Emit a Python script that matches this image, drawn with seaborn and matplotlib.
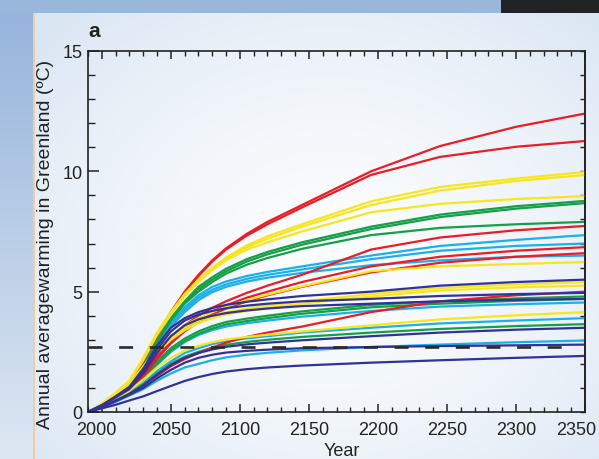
import matplotlib
matplotlib.use('Agg')
import matplotlib.pyplot as plt
import matplotlib.transforms as mtransforms
from matplotlib.ticker import MultipleLocator, FixedLocator
import numpy as np
import pandas as pd
import seaborn as sns

# sample years of every model run
years = [1990, 2000, 2010, 2020, 2030, 2040, 2050, 2060, 2070, 2080, 2090,
         2105, 2120, 2145, 2195, 2245, 2300, 2350]

# warming per run, grouped by colour
red_runs = {
    'red1': [0, 0.3, 0.75, 1.25, 2.15, 3.2, 4.15, 5.0, 5.7, 6.3, 6.8, 7.4, 7.9, 8.6, 10.0, 11.05, 11.85, 12.4],
    'red2': [0, 0.3, 0.72, 1.2, 2.1, 3.15, 4.1, 4.95, 5.65, 6.25, 6.75, 7.33, 7.8, 8.5, 9.85, 10.6, 11.02, 11.26],
    'red3': [0, 0.25, 0.6, 0.95, 1.6, 2.4, 3.1, 3.6, 4.0, 4.33, 4.6, 4.95, 5.25, 5.7, 6.75, 7.25, 7.55, 7.73],
    'red4': [0, 0.25, 0.58, 0.92, 1.5, 2.3, 2.95, 3.45, 3.85, 4.17, 4.43, 4.75, 5.0, 5.4, 6.05, 6.45, 6.7, 6.85],
    'red5': [0, 0.24, 0.56, 0.9, 1.45, 2.2, 2.85, 3.35, 3.75, 4.05, 4.3, 4.6, 4.85, 5.2, 5.8, 6.2, 6.45, 6.6],
    'red6': [0, 0.2, 0.45, 0.75, 1.1, 1.5, 1.9, 2.2, 2.45, 2.68, 2.88, 3.12, 3.3, 3.55, 4.15, 4.6, 4.85, 5.0],
}
yellow_runs = {
    'yel1': [0, 0.35, 0.8, 1.3, 2.25, 3.3, 4.15, 4.9, 5.5, 6.0, 6.42, 6.92, 7.3, 7.8, 8.75, 9.35, 9.7, 9.97],
    'yel2': [0, 0.33, 0.78, 1.28, 2.2, 3.25, 4.1, 4.85, 5.45, 5.95, 6.35, 6.85, 7.2, 7.7, 8.6, 9.2, 9.6, 9.85],
    'yel3': [0, 0.32, 0.76, 1.25, 2.15, 3.2, 4.05, 4.8, 5.4, 5.9, 6.3, 6.75, 7.05, 7.5, 8.3, 8.65, 8.85, 8.97],
    'yel4': [0, 0.3, 0.7, 1.15, 1.9, 2.6, 3.15, 3.6, 3.9, 4.15, 4.37, 4.65, 4.88, 5.22, 5.85, 6.05, 6.15, 6.23],
    'yel5': [0, 0.3, 0.7, 1.1, 1.8, 2.5, 3.05, 3.5, 3.8, 4.0, 4.15, 4.3, 4.42, 4.6, 4.9, 5.15, 5.3, 5.4],
    'yel6': [0, 0.3, 0.68, 1.08, 1.75, 2.45, 3.0, 3.4, 3.7, 3.9, 4.05, 4.2, 4.32, 4.5, 4.8, 5.05, 5.18, 5.25],
    'yel7': [0, 0.25, 0.55, 0.88, 1.35, 1.85, 2.25, 2.55, 2.75, 2.9, 3.01, 3.12, 3.21, 3.35, 3.6, 3.85, 4.02, 4.15],
}
green_runs = {
    'grn1': [0, 0.3, 0.7, 1.15, 2.0, 3.0, 3.9, 4.6, 5.2, 5.6, 5.95, 6.35, 6.65, 7.05, 7.7, 8.2, 8.55, 8.77],
    'grn2': [0, 0.3, 0.7, 1.12, 1.95, 2.95, 3.85, 4.55, 5.1, 5.5, 5.85, 6.25, 6.55, 6.95, 7.6, 8.1, 8.45, 8.68],
    'grn3': [0, 0.28, 0.68, 1.1, 1.9, 2.9, 3.8, 4.5, 5.0, 5.4, 5.75, 6.12, 6.4, 6.78, 7.35, 7.65, 7.8, 7.9],
    'grn4': [0, 0.25, 0.58, 0.92, 1.45, 2.1, 2.65, 3.05, 3.35, 3.57, 3.74, 3.88, 4.0, 4.18, 4.45, 4.6, 4.72, 4.8],
    'grn5': [0, 0.24, 0.55, 0.9, 1.4, 2.0, 2.55, 2.95, 3.25, 3.47, 3.64, 3.78, 3.9, 4.08, 4.35, 4.5, 4.62, 4.7],
    'grn6': [0, 0.22, 0.5, 0.78, 1.15, 1.6, 2.0, 2.3, 2.5, 2.66, 2.79, 2.91, 3.0, 3.12, 3.3, 3.45, 3.57, 3.65],
}
cyan_runs = {
    'cyn1': [0, 0.3, 0.68, 1.1, 1.9, 2.85, 3.7, 4.35, 4.85, 5.2, 5.42, 5.65, 5.82, 6.05, 6.5, 6.9, 7.15, 7.35],
    'cyn2': [0, 0.28, 0.65, 1.05, 1.85, 2.8, 3.6, 4.25, 4.75, 5.08, 5.3, 5.53, 5.7, 5.92, 6.35, 6.7, 6.9, 7.0],
    'cyn3': [0, 0.28, 0.65, 1.05, 1.8, 2.75, 3.55, 4.15, 4.65, 4.98, 5.2, 5.42, 5.58, 5.78, 6.1, 6.3, 6.45, 6.5],
    'cyn4': [0, 0.24, 0.55, 0.88, 1.35, 1.95, 2.5, 2.9, 3.2, 3.4, 3.55, 3.69, 3.8, 3.96, 4.2, 4.38, 4.48, 4.55],
    'cyn5': [0, 0.22, 0.5, 0.8, 1.2, 1.7, 2.1, 2.45, 2.65, 2.82, 2.95, 3.06, 3.15, 3.3, 3.5, 3.68, 3.8, 3.9],
    'cyn6': [0, 0.2, 0.42, 0.68, 0.95, 1.3, 1.6, 1.85, 2.0, 2.15, 2.27, 2.38, 2.46, 2.56, 2.7, 2.8, 2.9, 2.97],
}
navy_runs = {
    'nav1': [0, 0.28, 0.65, 1.05, 1.8, 2.75, 3.5, 3.9, 4.15, 4.32, 4.45, 4.58, 4.68, 4.82, 5.0, 5.25, 5.4, 5.5],
    'nav2': [0, 0.28, 0.63, 1.0, 1.7, 2.6, 3.35, 3.8, 4.05, 4.2, 4.31, 4.42, 4.5, 4.6, 4.7, 4.82, 4.9, 4.95],
    'nav3': [0, 0.27, 0.6, 0.95, 1.6, 2.45, 3.15, 3.6, 3.85, 4.0, 4.11, 4.22, 4.3, 4.4, 4.5, 4.6, 4.66, 4.7],
    'nav4': [0, 0.22, 0.48, 0.75, 1.1, 1.55, 1.95, 2.25, 2.45, 2.6, 2.71, 2.81, 2.88, 2.98, 3.15, 3.3, 3.42, 3.5],
    'nav5': [0, 0.2, 0.45, 0.72, 1.0, 1.4, 1.75, 2.05, 2.25, 2.38, 2.47, 2.54, 2.59, 2.65, 2.7, 2.74, 2.77, 2.8],
    'nav6': [0, 0.15, 0.3, 0.48, 0.65, 0.87, 1.08, 1.29, 1.45, 1.58, 1.68, 1.78, 1.85, 1.93, 2.05, 2.15, 2.25, 2.33],
}

dash_years = [1990, 2340]
dash_level = 2.7

x_ticks = [2000, 2050, 2100, 2150, 2200, 2250, 2300, 2350]
y_ticks = [0, 5, 10, 15]

groups = [(cyan_runs, '#1ab0ec'), (green_runs, '#14a046'), (red_runs, '#ec1c24'),
          (yellow_runs, '#f8e61c'), (navy_runs, '#30329a')]

rows = []
palette = {}
order = []
for runs, col in groups:
    for name, vals in runs.items():
        palette[name] = col
        order.append(name)
        for yr, v in zip(years, vals):
            rows.append((name, yr, v))
df = pd.DataFrame(rows, columns=['run', 'year', 'warming'])

sns.set_style('ticks')
plt.rcParams['font.family'] = ['Liberation Sans', 'DejaVu Sans']

W, H = 599, 460
fig = plt.figure(figsize=(W / 100, H / 100), dpi=100)

# slide-like background
yy, xx = np.mgrid[0:H, 0:W]
d = np.sqrt(((xx - 330) / 390.0) ** 2 + ((yy - 260) / 330.0) ** 2)
t = np.clip(d, 0, 1)[..., None] ** 1.6
bg = np.array([0.985, 0.99, 0.995]) * (1 - t) + np.array([0.86, 0.905, 0.955]) * t
tl = (yy / H)[..., None]
left = np.array([0.58, 0.70, 0.86]) * (1 - tl) + np.array([0.87, 0.91, 0.95]) * tl
bg = np.where((xx < 33)[..., None], left, bg)
bg[:, 33:35] = [0.95, 0.80, 0.64]
bg[:14, :501] = [0.60, 0.72, 0.86]
bg[:14, 501:] = [0.14, 0.14, 0.15]
fig.figimage(bg, xo=0, yo=0, origin='upper', zorder=-10)

ax = fig.add_axes([88 / W, 1 - 413 / H, 497 / W, 361 / H])
ax.set_facecolor('none')

sns.lineplot(data=df, x='year', y='warming', hue='run', hue_order=order,
             palette=palette, legend=False, sort=False, estimator=None,
             linewidth=1.6, ax=ax)
ax.plot(dash_years, [dash_level, dash_level], color='#2a2a2a', lw=1.9,
        dashes=(5.3, 6.3))

ax.set_xlim(1990, 2350)
ax.set_ylim(0, 15)
ax.xaxis.set_major_locator(FixedLocator(x_ticks))
ax.xaxis.set_minor_locator(MultipleLocator(10))
ax.yaxis.set_major_locator(FixedLocator(y_ticks))
ax.yaxis.set_minor_locator(MultipleLocator(1))

ax.tick_params(axis='x', which='both', direction='in', top=True, bottom=True,
               colors='#222222', labelsize=13, pad=6.5)
ax.tick_params(axis='x', which='major', length=6, width=1.1)
ax.tick_params(axis='x', which='minor', length=3.3, width=1.0)
ax.tick_params(axis='y', which='both', direction='in', left=True, right=False,
               colors='#222222', labelsize=13, pad=4)
ax.tick_params(axis='y', which='major', length=8, width=1.1)
ax.tick_params(axis='y', which='minor', length=5, width=1.0)

# end labels sit a little inward, as in the original
ticks = ax.xaxis.get_major_ticks()
for tk, dx in ((ticks[0], -5), (ticks[-1], -9)):
    off = mtransforms.ScaledTranslation(dx / 100, 0, fig.dpi_scale_trans)
    tk.label1.set_transform(tk.label1.get_transform() + off)

sec = ax.secondary_yaxis('right')
sec.yaxis.set_major_locator(FixedLocator(y_ticks))
sec.yaxis.set_minor_locator(MultipleLocator(1))
sec.tick_params(which='both', direction='in', length=3.6, width=1.0,
                colors='#222222', labelright=False)
sec.spines['right'].set_linewidth(1.2)
sec.spines['right'].set_color('#222222')

for s in ax.spines.values():
    s.set_linewidth(1.2)
    s.set_color('#222222')

ax.set_xlabel('Year', fontsize=13, color='#222222')
ax.xaxis.set_label_coords(0.511, -0.083)
ax.set_ylabel('Annual averagewarming in Greenland (ºC)', fontsize=14, color='#222222')
ax.yaxis.set_label_coords(-0.0865, 0.468)
ax.yaxis.label.set_va('center')

ax.text(0.0, 1.0416, 'a', transform=ax.transAxes, fontsize=15, fontweight='bold',
        ha='left', va='baseline', color='#222222')

fig.savefig('out.png', dpi=100)
